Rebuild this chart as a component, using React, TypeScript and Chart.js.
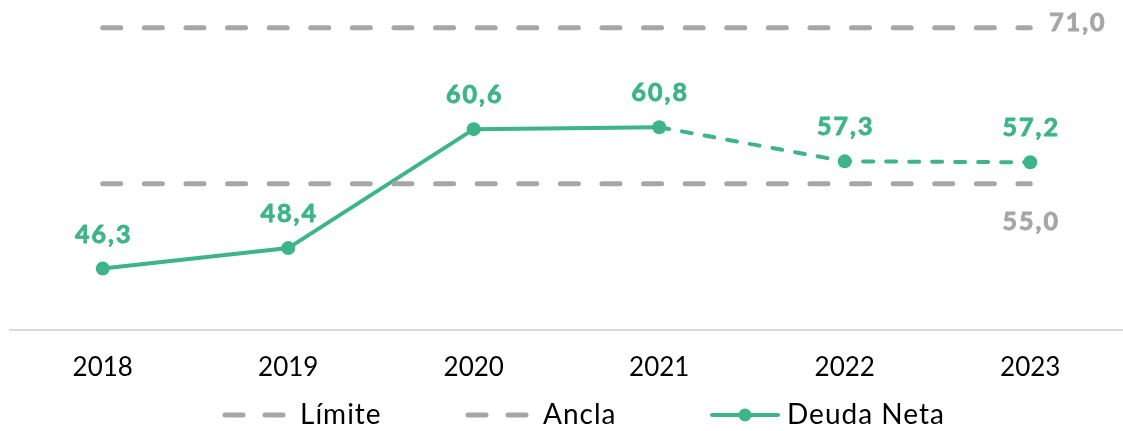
import React, { useEffect, useRef } from "react";
import { Chart, registerables } from "chart.js";

Chart.register(...registerables);

const categories = ["2018", "2019", "2020", "2021", "2022", "2023"];
const deudaNeta = [46.3, 48.4, 60.6, 60.8, 57.3, 57.2];
const limite = [71, 71, 71, 71, 71, 71];
const ancla = [55, 55, 55, 55, 55, 55];
const limiteLabel = "71,0";
const anclaLabel = "55,0";
const legendLabels = ["Límite", "Ancla", "Deuda Neta"];

const GREEN = "#3EB489";
const GREY = "#A6A6A6";
const FONT = "Lato, 'DejaVu Sans', sans-serif";

const fmt = (v: number) => v.toFixed(1).replace(".", ",");

const drawSpaced = (
  ctx: any,
  text: string,
  x: number,
  y: number,
  spacing: number,
  align: string,
  heavy = false
) => {
  ctx.letterSpacing = spacing + "px";
  const w = ctx.measureText(text).width - spacing;
  ctx.textAlign = "left";
  let sx = x;
  if (align === "center") sx = x - w / 2;
  ctx.fillText(text, sx, y);
  if (heavy) {
    ctx.lineWidth = 0.9;
    ctx.strokeStyle = ctx.fillStyle;
    ctx.setLineDash([]);
    ctx.lineJoin = "round";
    ctx.strokeText(text, sx, y);
  }
  ctx.letterSpacing = "0px";
};

const labelsPlugin = {
  id: "customLabels",
  afterDatasetsDraw(chart: any) {
    const ctx = chart.ctx;
    ctx.save();
    const meta = chart.getDatasetMeta(2);
    ctx.font = `bold 25px ${FONT}`;
    ctx.fillStyle = GREEN;
    ctx.textBaseline = "middle";
    meta.data.forEach((pt: any, i: number) => {
      drawSpaced(ctx, fmt(deudaNeta[i]), pt.x, pt.y - 34, 2, "center", true);
    });
    const lMeta = chart.getDatasetMeta(0);
    const lastL = lMeta.data[lMeta.data.length - 1];
    ctx.fillStyle = GREY;
    drawSpaced(ctx, limiteLabel, lastL.x + 19, lastL.y - 5, 2, "left", true);
    const aMeta = chart.getDatasetMeta(1);
    const lastA = aMeta.data[aMeta.data.length - 1];
    drawSpaced(ctx, anclaLabel, lastA.x, lastA.y + 38, 2, "center", true);

    // legend
    const ly = 415;
    ctx.lineCap = "round";
    ctx.lineWidth = 5;
    ctx.strokeStyle = GREY;
    ctx.setLineDash([18, 22]);
    ctx.beginPath();
    ctx.moveTo(225, ly);
    ctx.lineTo(290, ly);
    ctx.stroke();
    ctx.beginPath();
    ctx.moveTo(468, ly);
    ctx.lineTo(530, ly);
    ctx.stroke();
    ctx.setLineDash([]);
    ctx.strokeStyle = GREEN;
    ctx.lineWidth = 4;
    ctx.beginPath();
    ctx.moveTo(712, ly);
    ctx.lineTo(778, ly);
    ctx.stroke();
    ctx.fillStyle = GREEN;
    ctx.beginPath();
    ctx.arc(745, ly, 6.5, 0, Math.PI * 2);
    ctx.fill();
    ctx.font = `28px ${FONT}`;
    ctx.fillStyle = "#000";
    drawSpaced(ctx, legendLabels[0], 300, ly, 1, "left");
    drawSpaced(ctx, legendLabels[1], 543, ly, 1, "left");
    drawSpaced(ctx, legendLabels[2], 787, ly, 1, "left");
    ctx.restore();
  },
};

export default function App() {
  const ref = useRef<HTMLCanvasElement>(null);
  useEffect(() => {
    if (!ref.current) return;
    const chart = new Chart(ref.current, {
      type: "line",
      data: {
        labels: categories,
        datasets: [
          {
            label: legendLabels[0],
            data: limite,
            borderColor: GREY,
            borderWidth: 5,
            borderDash: [18, 23.6],
            borderCapStyle: "round",
            pointRadius: 0,
          },
          {
            label: legendLabels[1],
            data: ancla,
            borderColor: GREY,
            borderWidth: 5,
            borderDash: [18, 23.6],
            borderCapStyle: "round",
            pointRadius: 0,
          },
          {
            label: legendLabels[2],
            data: deudaNeta,
            borderColor: GREEN,
            backgroundColor: GREEN,
            borderWidth: 4,
            borderCapStyle: "round",
            pointRadius: 7,
            pointBackgroundColor: GREEN,
            pointBorderWidth: 0,
            segment: {
              borderDash: (c: any) => (c.p0DataIndex >= 3 ? [10, 13] : undefined),
            },
          },
        ],
      } as any,
      options: {
        animation: false,
        responsive: false,
        maintainAspectRatio: false,
        layout: { padding: { left: 10, right: 0, top: 18, bottom: 0 } },
        plugins: { legend: { display: false }, tooltip: { enabled: false } },
        scales: {
          x: {
            offset: true,
            grid: { display: false, drawTicks: false },
            border: { display: true, color: "#D9D9D9", width: 2 },
            ticks: {
              color: "#000",
              font: { family: FONT, size: 26 },
              padding: 22,
            },
            afterFit: (s: any) => {
              s.height = 101;
            },
          },
          y: {
            display: false,
            min: 40,
            max: 72,
          },
        },
      } as any,
      plugins: [labelsPlugin],
    });
    return () => chart.destroy();
  }, []);
  return (
    <div
      style={{
        position: "fixed",
        left: 0,
        top: 0,
        width: 1123,
        height: 431,
        overflow: "hidden",
        background: "#fff",
      }}
    >
      <canvas ref={ref} width={1130} height={431} style={{ display: "block" }} />
    </div>
  );
}
